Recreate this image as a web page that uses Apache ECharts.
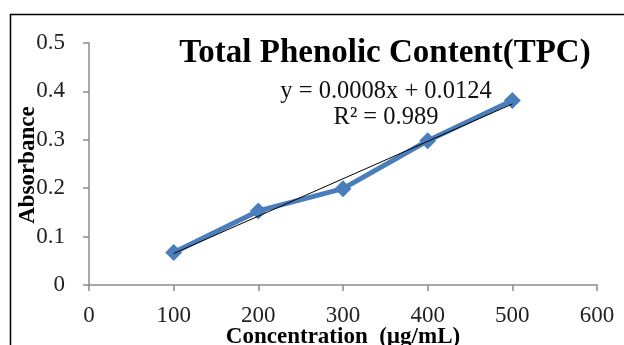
<!DOCTYPE html>
<html>
<head>
<meta charset="utf-8">
<script src="https://cdn.jsdelivr.net/npm/echarts@6/dist/echarts.min.js"></script>
<style>
  html, body { margin: 0; padding: 0; background: #fff; }
  #main { width: 624px; height: 345px; }
</style>
</head>
<body>
<div id="main"></div>
<script>
// data
var concentration = [100, 200, 300, 400, 500];
var absorbance = [0.067, 0.153, 0.199, 0.298, 0.381];
// linear trendline end points
var trendX = [100, 500];
var trendY = [0.065, 0.374];
var xTicks = [0, 100, 200, 300, 400, 500, 600];
var yTicks = [0, 0.1, 0.2, 0.3, 0.4, 0.5];

var chart = echarts.init(document.getElementById('main'));
var serif = '"Liberation Serif", "Times New Roman", serif';

var option = {
    animation: false,
    backgroundColor: '#fff',
    title: {
        text: 'Total Phenolic Content(TPC)',
        left: 380, top: 32, textAlign: 'center',
        textStyle: { fontFamily: serif, fontSize: 33, fontWeight: 'bold', color: '#000' }
    },
    grid: { left: 89, right: 27, top: 43, bottom: 60, outerBoundsMode: 'none', containLabel: false },
    xAxis: {
        type: 'value',
        min: xTicks[0], max: xTicks[xTicks.length - 1], interval: 100,
        name: 'Concentration  (µg/mL)',
        nameLocation: 'middle', nameGap: 41, nameMoveOverlap: false,
        nameTextStyle: { fontFamily: serif, fontSize: 23, fontWeight: 'bold', color: '#000' },
        axisLine: { lineStyle: { color: '#8c8c8c', width: 1.5 } },
        axisTick: { show: true, length: 6, lineStyle: { color: '#8c8c8c', width: 1.5 } },
        axisLabel: { fontFamily: serif, fontSize: 23, color: '#222', margin: 19 },
        splitLine: { show: false }
    },
    yAxis: {
        type: 'value',
        min: yTicks[0], max: yTicks[yTicks.length - 1], interval: 0.1,
        axisLine: { show: true, lineStyle: { color: '#8c8c8c', width: 1.5 } },
        axisTick: { show: true, length: 6, lineStyle: { color: '#8c8c8c', width: 1.5 } },
        axisLabel: { fontFamily: serif, fontSize: 23, color: '#222', margin: 24 },
        splitLine: { show: false }
    },
    graphic: [
        {
            type: 'rect', left: 8, top: 12, silent: true,
            shape: { width: 640, height: 400 },
            style: { fill: 'none', stroke: '#000', lineWidth: 1.5 }
        },
        {
            type: 'text', x: 28, y: 165, rotation: Math.PI / 2,
            style: {
                text: 'Absorbance', fontFamily: serif, fontSize: 23, fontWeight: 'bold',
                fill: '#000', align: 'center', verticalAlign: 'middle'
            }
        },
        {
            type: 'text', x: 386, y: 105,
            style: {
                text: 'y = 0.0008x + 0.0124\nR² = 0.989', fontFamily: serif, fontSize: 24.5,
                lineHeight: 26, fill: '#111', align: 'center', verticalAlign: 'middle'
            }
        }
    ],
    series: [
        {
            type: 'line',
            data: concentration.map(function (x, i) { return [x, absorbance[i]]; }),
            symbol: 'diamond', symbolSize: 17,
            lineStyle: { color: '#4a7ebb', width: 5 },
            itemStyle: { color: '#4a7ebb' },
            z: 2
        },
        {
            type: 'line',
            data: trendX.map(function (x, i) { return [x, trendY[i]]; }),
            symbol: 'none',
            lineStyle: { color: '#000', width: 1 },
            z: 3
        }
    ]
};
chart.setOption(option);
</script>
</body>
</html>
